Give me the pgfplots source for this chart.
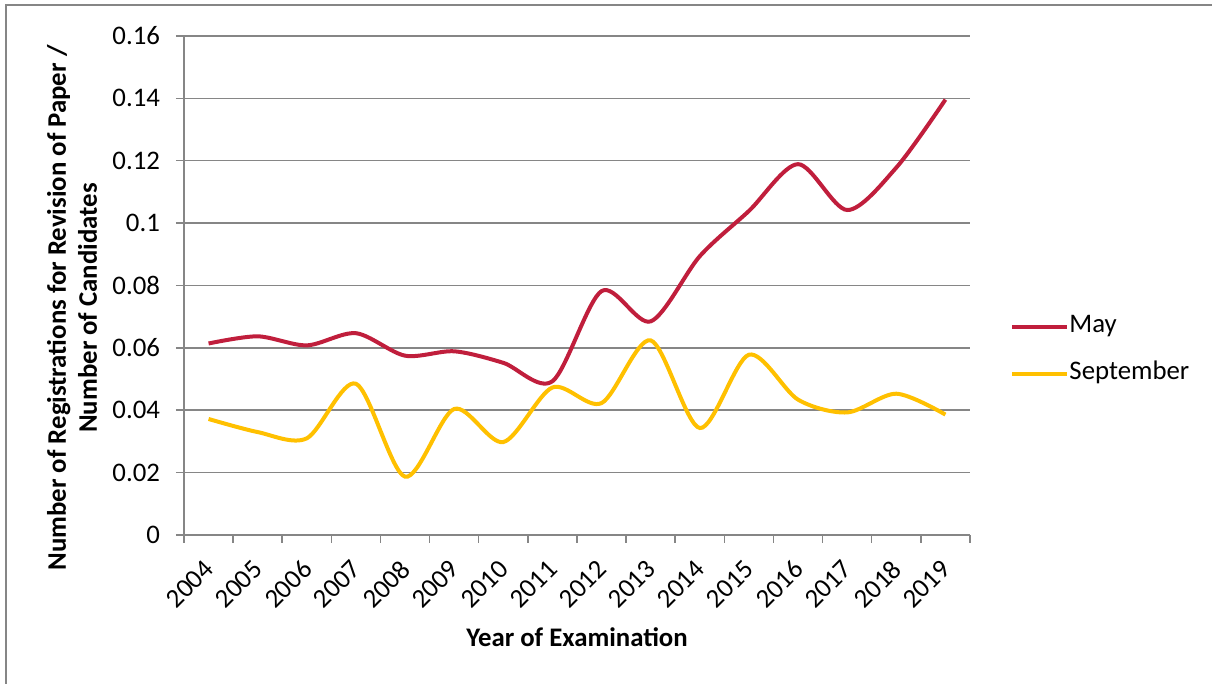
\documentclass[border=0pt]{standalone}
\usepackage{fontspec}
\setmainfont{Carlito}
\usepackage{pgfplots}
\pgfplotsset{compat=1.18}
\definecolor{gridgray}{RGB}{134,134,134}
\definecolor{mayred}{RGB}{192,30,60}
\definecolor{sepgold}{RGB}{255,192,0}

\begin{document}
\begin{tikzpicture}
% page = 1212x684 px at 0.5pt per px, plot area SW at (0,0)
\useasboundingbox (-92pt,-74.5pt) rectangle (514pt,267.5pt);
\draw[gridgray, line width=0.6pt] (-89pt,-80pt) -- (-89pt,265pt) -- (520pt,265pt);
\begin{axis}[
    scale only axis,
    width=393pt, height=249.5pt,
    xmin=-0.5, xmax=15.5,
    ymin=0, ymax=0.16,
    axis x line*=bottom,
    axis y line*=left,
    axis line style={gridgray, line width=0.75pt},
    tick align=outside,
    major tick length=4pt,
    minor tick length=4pt,
    xtick={0,...,15},
    xticklabels={2004,2005,2006,2007,2008,2009,2010,2011,2012,2013,2014,2015,2016,2017,2018,2019},
    minor xtick={-0.5,0.5,...,15.5},
    major x tick style={draw=none},
    minor x tick style={gridgray, line width=0.75pt},
    ytick={0,0.02,...,0.16},
    yticklabels={0,0.02,0.04,0.06,0.08,0.1,0.12,0.14,0.16},
    major y tick style={gridgray, line width=0.75pt},
    ymajorgrids,
    major grid style={gridgray, line width=0.75pt},
    tick label style={font=\fontsize{13.4}{15}\selectfont, text=black},
    xticklabel style={xshift=-3pt, yshift=-7.5pt, rotate=45, anchor=north east, inner sep=0pt},
    yticklabel style={xshift=-4.5pt},
    xlabel={Year of Examination},
    xlabel style={font=\fontsize{13.4}{15}\selectfont\bfseries, at={(axis description cs:0.5,-0.2044)}, anchor=center},
    ylabel={Number of Registrations for Revision of Paper /\\Number of Candidates},
    ylabel style={font=\fontsize{13.4}{15.5}\selectfont\bfseries, align=center, at={(axis description cs:-0.1425,0.455)}, anchor=center},
    legend style={at={(axis description cs:1.051,0.37)}, anchor=west, draw=none, fill=none,
        inner sep=0pt, font=\fontsize{13.4}{15}\selectfont,
        nodes={inner sep=0pt, text height=9pt, text depth=3.5pt}, row sep=11pt,
        /tikz/every even column/.append style={column sep=2.5pt}},
    legend cell align=left,
    legend image code/.code={\draw[#1] (0pt,0pt) -- (27.5pt,0pt);},
]
\addplot[mayred, line width=2pt, smooth] coordinates {
    (0,0.0614) (1,0.0637) (2,0.0608) (3,0.0647) (4,0.0575) (5,0.0589)
    (6,0.0552) (7,0.0493) (8,0.0782) (9,0.0685) (10,0.0894) (11,0.1039)
    (12,0.1189) (13,0.1042) (14,0.1178) (15,0.1396)
};
\addlegendentry{May}
\addplot[sepgold, line width=2pt, smooth] coordinates {
    (0,0.0372) (1,0.0330) (2,0.0310) (3,0.0485) (4,0.0187) (5,0.0404)
    (6,0.0298) (7,0.0473) (8,0.0423) (9,0.0624) (10,0.0343) (11,0.0578)
    (12,0.0434) (13,0.0393) (14,0.0453) (15,0.0386)
};
\addlegendentry{September}
\end{axis}
\end{tikzpicture}
\end{document}
